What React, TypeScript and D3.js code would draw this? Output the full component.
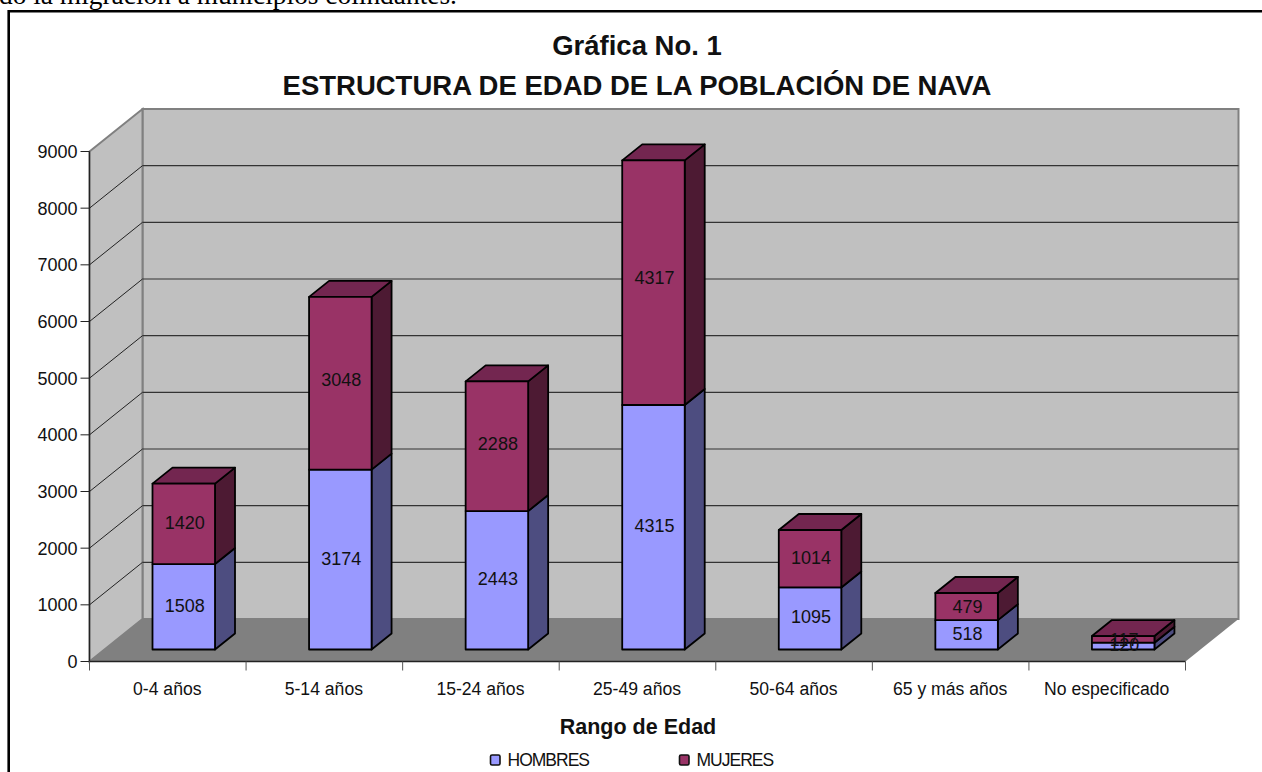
import React from "react";
import * as d3 from "d3";

const categories = ["0-4 años", "5-14 años", "15-24 años", "25-49 años", "50-64 años", "65 y más años", "No especificado"];
const hombres = [1508, 3174, 2443, 4315, 1095, 518, 120];
const mujeres = [1420, 3048, 2288, 4317, 1014, 479, 117];
const yTicks = [0, 1000, 2000, 3000, 4000, 5000, 6000, 7000, 8000, 9000];
const titleLines = ["Gráfica No. 1", "ESTRUCTURA DE EDAD DE LA POBLACIÓN DE NAVA"];
const xTitle = "Rango de Edad";
const topText = "do la migración a municipios colindantes.";
const legendItems = ["HOMBRES", "MUJERES"];

const SANS = "'Liberation Sans', Arial, sans-serif";
const W = 1262, H = 772;
const x0 = 89.5, x1 = 1185.5, y0 = 661.5, y9 = 151.5;
const DX = 53, DY = 42.5;
const x = d3.scaleBand<string>().domain(categories).range([x0, x1]);
const y = d3.scaleLinear().domain([0, 9000]).range([y0, y9]);

const barW = 62.5;
const barOffX = 63;
const barOffY = 12;
const depthX = 20;
const depthY = 16;

const poly = (pts: [number, number][]) => pts.map((p) => p.join(",")).join(" ");

function Segment({ xl, yb, yt, front, side, top, drawTop }: { xl: number; yb: number; yt: number; front: string; side: string; top: string; drawTop: boolean }) {
  const xr = xl + barW;
  const s = { stroke: "#000", strokeWidth: 1.8, strokeLinejoin: "round" as const };
  return (
    <g>
      <polygon points={poly([[xr, yb], [xr + depthX, yb - depthY], [xr + depthX, yt - depthY], [xr, yt]])} fill={side} {...s} />
      {drawTop && <polygon points={poly([[xl, yt], [xl + depthX, yt - depthY], [xr + depthX, yt - depthY], [xr, yt]])} fill={top} {...s} />}
      <rect x={xl} y={yt} width={barW} height={yb - yt} fill={front} {...s} />
    </g>
  );
}

export default function App() {
  const bars = categories.map((c, i) => ({
    c,
    i,
    xl: (x(c) as number) + barOffX,
    yb0: y(0) - barOffY,
    yh: y(hombres[i]) - barOffY,
    ym: y(hombres[i] + mujeres[i]) - barOffY,
  }));
  return (
    <svg width={W} height={H} style={{ position: "fixed", left: 0, top: 0, background: "#fff" }}>
      <text x={-1} y={3.5} fontFamily="'Liberation Serif', serif" fontSize={27.4} fill="#000">{topText}</text>
      <path d={`M8.7,${H}V11.2H${W}`} fill="none" stroke="#000" strokeWidth={2.6} />

      {titleLines.map((t, i) => (
        <text key={t} x={637} y={[55, 95][i]} textAnchor="middle" fontFamily={SANS} fontWeight="bold" fontSize={27.5} fill="#111">{t}</text>
      ))}

      <polygon points={poly([[x0 + DX, y9 - DY], [x1 + DX, y9 - DY], [x1 + DX, y0 - DY], [x0 + DX, y0 - DY]])} fill="#c0c0c0" stroke="#808080" strokeWidth={2} />
      <polygon points={poly([[x0, y9], [x0 + DX, y9 - DY], [x0 + DX, y0 - DY], [x0, y0]])} fill="#c0c0c0" stroke="#808080" strokeWidth={2} />
      <polygon points={poly([[x0, y0], [x1, y0], [x1 + DX, y0 - DY], [x0 + DX, y0 - DY]])} fill="#808080" />
      {yTicks.filter((t) => t > 0 && t < 9000).map((t) => (
        <g key={t}>
          <line x1={x0} y1={y(t)} x2={x0 + DX} y2={y(t) - DY} stroke="#222" strokeWidth={1} />
          <line x1={x0 + DX} y1={y(t) - DY} x2={x1 + DX} y2={y(t) - DY} stroke="#333" strokeWidth={1.2} />
        </g>
      ))}

      <line x1={x0} y1={y9} x2={x0} y2={y0} stroke="#222" strokeWidth={1.3} />
      <line x1={x0} y1={y0} x2={x1} y2={y0} stroke="#222" strokeWidth={1.3} />
      {yTicks.map((t) => (
        <g key={t}>
          <line x1={x0 - 9} y1={y(t)} x2={x0} y2={y(t)} stroke="#222" strokeWidth={1} />
          <text x={x0 - 12} y={y(t) + 6.5} textAnchor="end" fontFamily={SANS} fontSize={18} fill="#111">{t}</text>
        </g>
      ))}
      {categories.map((c) => (
        <line key={c} x1={x(c)} y1={y0} x2={x(c)} y2={y0 + 9} stroke="#555" strokeWidth={1} />
      ))}
      <line x1={x1} y1={y0} x2={x1} y2={y0 + 9} stroke="#555" strokeWidth={1} />
      {categories.map((c) => (
        <text key={c} x={(x(c) as number) + x.bandwidth() / 2 - 0.5} y={695} textAnchor="middle" fontFamily={SANS} fontSize={17.6} fill="#111">{c}</text>
      ))}

      {bars.map(({ c, xl, yb0, yh, ym }) => (
        <g key={c}>
          <Segment xl={xl} yb={yb0} yt={yh} front="#9999ff" side="#4d4d80" top="#4d4d80" drawTop={false} />
          <Segment xl={xl} yb={yh} yt={ym} front="#993366" side="#4d1a33" top="#732650" drawTop={true} />
        </g>
      ))}
      {bars.map(({ c, i, xl, yb0, yh, ym }) => (
        <g key={c} fontFamily={SANS} fontSize={18} fill="#111" textAnchor="middle">
          <text x={xl + barW / 2 + 1} y={(yb0 + yh) / 2 + 5}>{hombres[i]}</text>
          <text x={xl + barW / 2 + 1} y={(yh + ym) / 2 + 6.5 - 0.02 * (yh - ym)}>{mujeres[i]}</text>
        </g>
      ))}

      <text x={638} y={734} textAnchor="middle" fontFamily={SANS} fontWeight="bold" fontSize={21.5} fill="#111">{xTitle}</text>
      {legendItems.map((t, i) => (
        <g key={t}>
          <rect x={[490.5, 679.5][i]} y={755} width={9.5} height={10} rx={1.5} fill={["#9999ff", "#993366"][i]} stroke="#111" strokeWidth={1.6} />
          <text x={[507.5, 696.5][i]} y={766} fontFamily={SANS} fontSize={17.5} letterSpacing={-1} fill="#111">{t}</text>
        </g>
      ))}
    </svg>
  );
}
